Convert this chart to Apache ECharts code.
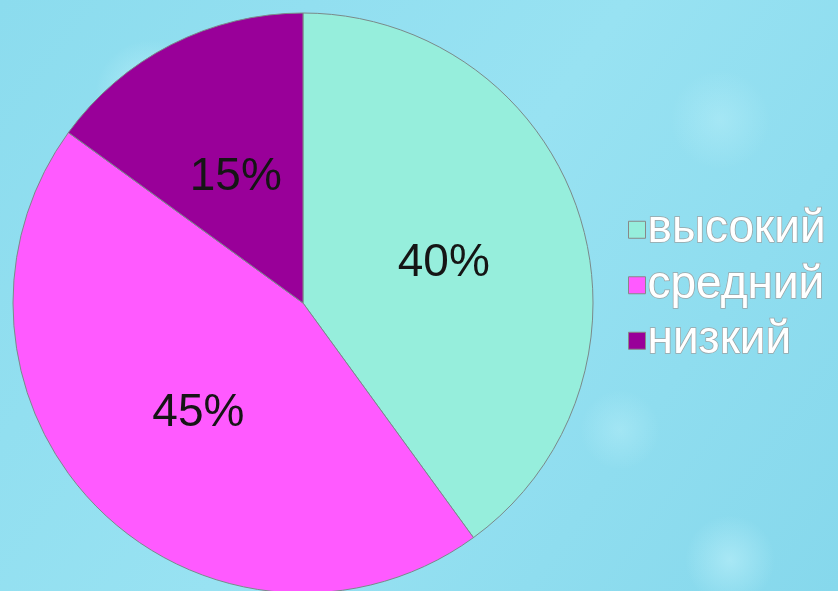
<!DOCTYPE html>
<html>
<head>
<meta charset="utf-8">
<script src="https://cdn.jsdelivr.net/npm/echarts@6/dist/echarts.min.js"></script>
<style>
html,body{margin:0;padding:0;}
#c{width:838px;height:591px;}
</style>
</head>
<body>
<div id="c"></div>
<script>
const categories = ['высокий', 'средний', 'низкий'];
const values = [40, 45, 15];
const colors = ['#96eedc', '#ff5aff', '#990099'];

function blob(cx, cy, rx, ry, a) {
  return {
    type: 'ellipse', z: -1, silent: true,
    shape: {cx: cx, cy: cy, rx: rx, ry: ry},
    style: {fill: {type: 'radial', x: 0.5, y: 0.5, r: 0.5, colorStops: [
      {offset: 0, color: 'rgba(205,248,255,' + a + ')'},
      {offset: 1, color: 'rgba(205,248,255,0)'}
    ]}}
  };
}

const chart = echarts.init(document.getElementById('c'));
const option = {
  backgroundColor: {
    type: 'linear', x: 0, y: 0, x2: 1, y2: 1,
    colorStops: [
      {offset: 0, color: '#8cdcee'},
      {offset: 0.5, color: '#98e2f2'},
      {offset: 1, color: '#86d8ec'}
    ]
  },
  graphic: [
    blob(150, 95, 130, 55, 0.55),
    blob(730, 560, 140, 45, 0.45),
    blob(720, 120, 130, 50, 0.3),
    blob(620, 430, 100, 40, 0.3)
  ],
  legend: {
    orient: 'vertical',
    left: 623,
    top: 201,
    itemWidth: 17,
    itemHeight: 17,
    itemGap: 8,
    icon: 'rect',
    itemStyle: {borderColor: '#888', borderWidth: 1},
    textStyle: {
      fontFamily: 'Liberation Sans, Arial, sans-serif',
      fontSize: 46,
      color: '#ffffff',
      textBorderColor: '#9aa4a6',
      textBorderWidth: 1.5,
      padding: [0, 0, 0, -3]
    },
    data: categories
  },
  series: [{
    type: 'pie',
    center: [303, 303],
    radius: [0, 290],
    startAngle: 90,
    clockwise: true,
    silent: true,
    itemStyle: {borderColor: '#7a8a8a', borderWidth: 1},
    label: {
      position: 'inside',
      formatter: '{c}%',
      fontFamily: 'Liberation Sans, Arial, sans-serif',
      fontSize: 46,
      color: '#151515'
    },
    labelLayout: {dy: 6},
    labelLine: {show: false},
    data: categories.map((n, i) => ({name: n, value: values[i], itemStyle: {color: colors[i]}}))
  }]
};
chart.setOption(option);
</script>
</body>
</html>
